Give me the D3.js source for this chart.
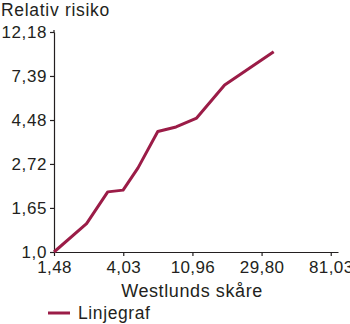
<!DOCTYPE html>
<html>
<head>
<meta charset="utf-8">
<script src="https://d3js.org/d3.v7.min.js"></script>
<style>
  body { margin: 0; background: #fff; }
  svg text { font-family: "Liberation Sans", Arial, sans-serif; fill: #231f20; }
</style>
</head>
<body>
<svg width="350" height="324"></svg>
<script>
// values
var westlund = [1.48, 2.37, 3.22, 4.02, 4.99, 6.64, 8.65, 11.65, 17.46, 35.5];
var risiko   = [1.0, 1.38, 1.98, 2.02, 2.60, 3.93, 4.14, 4.58, 6.67, 9.74];
var xTicks = [1.48, 4.03, 10.96, 29.80, 81.03];
var xTickLabels = ["1,48", "4,03", "10,96", "29,80", "81,03"];
var yTicks = [1.0, 1.65, 2.72, 4.48, 7.39, 12.18];
var yTickLabels = ["1,0", "1,65", "2,72", "4,48", "7,39", "12,18"];
var seriesName = "Linjegraf";

var svg = d3.select("svg");
var lineColor = "#9b1c47";
var ink = "#231f20";

var x = d3.scaleLog().domain([1.48, 90]).range([54, 338]);
var y = d3.scaleLog().domain([1, 12.18]).range([252, 32]);

var xAxis = svg.append("g")
    .attr("transform", "translate(0,252)")
    .call(d3.axisBottom(x)
      .tickValues(xTicks)
      .tickSize(4)
      .tickSizeOuter(0)
      .tickFormat(function(d, i) { return xTickLabels[i]; }));

var yAxis = svg.append("g")
    .attr("transform", "translate(54,0)")
    .call(d3.axisLeft(y)
      .tickValues(yTicks)
      .tickSize(4)
      .tickSizeOuter(0)
      .tickFormat(function(d, i) { return yTickLabels[i]; }));

svg.selectAll(".domain, .tick line")
    .attr("stroke", ink)
    .attr("stroke-width", 1.2);

xAxis.selectAll("text")
    .attr("y", 9)
    .attr("dy", "0.71em")
    .style("font-size", "17px")
    .style("letter-spacing", "0.4px")
    .attr("fill", ink);

yAxis.selectAll("text")
    .attr("x", -7)
    .attr("dy", "0.34em")
    .style("font-size", "17px")
    .style("letter-spacing", "0.6px")
    .attr("fill", ink);

// little overshoot of the y axis above the top tick
svg.append("line")
    .attr("x1", 54).attr("x2", 54)
    .attr("y1", 30).attr("y2", 33)
    .attr("stroke", ink).attr("stroke-width", 1.2);

var data = westlund.map(function(d, i) { return [d, risiko[i]]; });

var line = d3.line()
    .x(function(d) { return x(d[0]); })
    .y(function(d) { return y(d[1]); });

svg.append("path")
    .datum(data)
    .attr("d", line)
    .attr("fill", "none")
    .attr("stroke", lineColor)
    .attr("stroke-width", 3)
    .attr("stroke-linejoin", "round");

svg.append("text")
    .attr("x", 1)
    .attr("y", 15.5)
    .style("font-size", "17.5px")
    .style("letter-spacing", "0.7px")
    .text("Relativ risiko");

svg.append("text")
    .attr("x", 192)
    .attr("y", 297)
    .attr("text-anchor", "middle")
    .style("font-size", "18px")
    .style("letter-spacing", "0.6px")
    .text("Westlunds skåre");

// legend
svg.append("line")
    .attr("x1", 48).attr("x2", 70)
    .attr("y1", 313).attr("y2", 313)
    .attr("stroke", lineColor)
    .attr("stroke-width", 3);

svg.append("text")
    .attr("x", 78)
    .attr("y", 319)
    .style("font-size", "17.5px")
    .style("letter-spacing", "0.6px")
    .text(seriesName);
</script>
</body>
</html>
